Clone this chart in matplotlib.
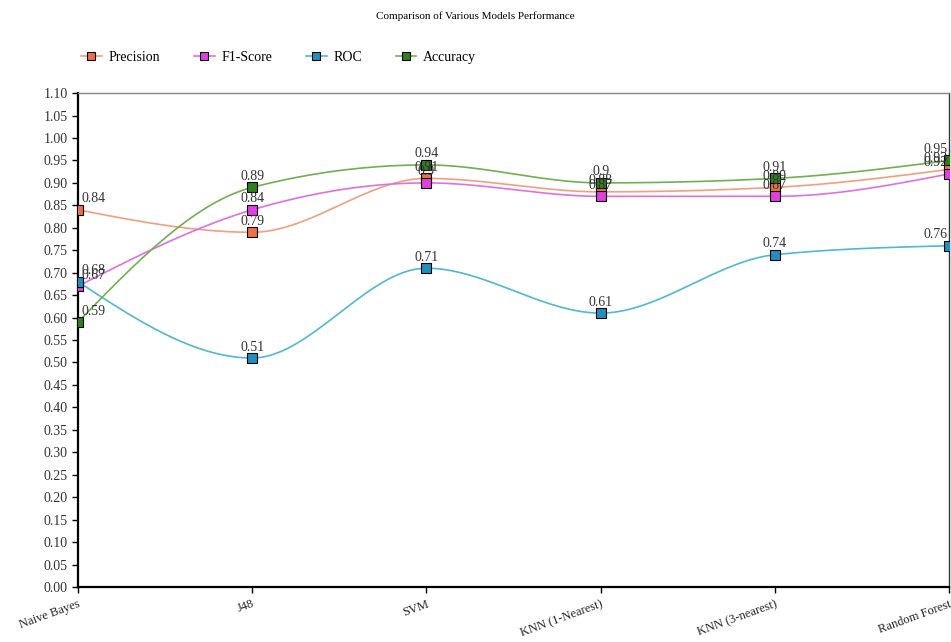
import numpy as np
import matplotlib
matplotlib.use("Agg")
from matplotlib import pyplot as plt

models = ["Naive Bayes", "J48", "SVM", "KNN (1-Nearest)", "KNN (3-nearest)", "Random Forest"]
precision = [0.84, 0.79, 0.91, 0.88, 0.89, 0.93]
f1_score = [0.67, 0.84, 0.90, 0.87, 0.87, 0.92]
roc = [0.68, 0.51, 0.71, 0.61, 0.74, 0.76]
accuracy = [0.59, 0.89, 0.94, 0.90, 0.91, 0.95]

series = [
    ("Precision", precision, "#f0a080", "#f07048"),
    ("F1-Score", f1_score, "#e070e0", "#e040e0"),
    ("ROC", roc, "#50b8d0", "#2090c0"),
    ("Accuracy", accuracy, "#70b050", "#308020"),
]

plt.rcParams['font.family'] = ['Liberation Serif', 'DejaVu Serif']


def monotone_x(x, y, n=40):
    # steffen style monotone cubic, like d3 curveMonotoneX
    x = np.asarray(x, float)
    y = np.asarray(y, float)
    h = np.diff(x)
    s = np.diff(y) / h
    m = np.zeros(len(x))
    for i in range(1, len(x) - 1):
        p = (s[i - 1] * h[i] + s[i] * h[i - 1]) / (h[i - 1] + h[i])
        m[i] = (np.sign(s[i - 1]) + np.sign(s[i])) * min(abs(s[i - 1]), abs(s[i]), 0.5 * abs(p))
    m[0] = (3 * s[0] - m[1]) / 2
    m[-1] = (3 * s[-1] - m[-2]) / 2
    xs, ys = [], []
    for i in range(len(x) - 1):
        t = np.linspace(0, 1, n)
        h00 = 2 * t**3 - 3 * t**2 + 1
        h10 = t**3 - 2 * t**2 + t
        h01 = -2 * t**3 + 3 * t**2
        h11 = t**3 - t**2
        xs.append(x[i] + t * h[i])
        ys.append(h00 * y[i] + h10 * h[i] * m[i] + h01 * y[i + 1] + h11 * h[i] * m[i + 1])
    return np.concatenate(xs), np.concatenate(ys)


fig = plt.figure(figsize=(9.51, 6.42), dpi=100)
ax = fig.add_axes([0.082, 0.0857, 0.916, 0.7693])

xpos = np.arange(len(models))
handles = []
for name, vals, lc, mc in series:
    cx, cy = monotone_x(xpos, vals)
    ax.plot(cx, cy, color=lc, lw=1.2, zorder=2)
    ax.plot(xpos, vals, ls="none", marker="s", ms=7, mfc=mc, mec="black", mew=0.8, zorder=3)
    h, = ax.plot([], [], color=lc, lw=1.2, marker="s", ms=6, mfc=mc, mec="black", mew=0.8)
    handles.append(h)
    for i, v in enumerate(vals):
        ha = "center"
        dx = 0
        if i == 0:
            ha = "left"
            dx = 0.02
        elif i == len(vals) - 1:
            ha = "right"
            dx = -0.01
        ax.text(xpos[i] + dx, v + 0.01, "%g" % v, ha=ha, va="bottom", fontsize=10, color="#333333", zorder=4)

ax.set_xlim(0, len(models) - 1)
ax.set_ylim(0, 1.10)
ax.set_yticks(np.arange(0, 1.1001, 0.05))
ax.set_yticklabels(["%.2f" % v for v in np.arange(0, 1.1001, 0.05)], fontsize=10, color="#333333")
ax.set_xticks(xpos)
ax.set_xticklabels(models, rotation=20, ha="right", fontsize=9, rotation_mode="anchor", color="#222222")
ax.tick_params(axis="both", length=4, width=1, color="black")
ax.tick_params(axis="x", pad=4)

ax.spines["left"].set_linewidth(1.6)
ax.spines["bottom"].set_linewidth(1.6)
ax.spines["top"].set_color("#888888")
ax.spines["top"].set_linewidth(1)
ax.spines["right"].set_color("#333333")
ax.spines["right"].set_linewidth(1)

fig.text(0.5, 0.975, "Comparison of Various Models Performance", ha="center", va="center", fontsize=8)
fig.legend(handles, [s[0] for s in series], loc="center left", bbox_to_anchor=(0.072, 0.911),
           ncol=4, frameon=False, fontsize=10, handlelength=1.5, columnspacing=2.4, handletextpad=0.5)

fig.savefig("out.png", dpi=100)
